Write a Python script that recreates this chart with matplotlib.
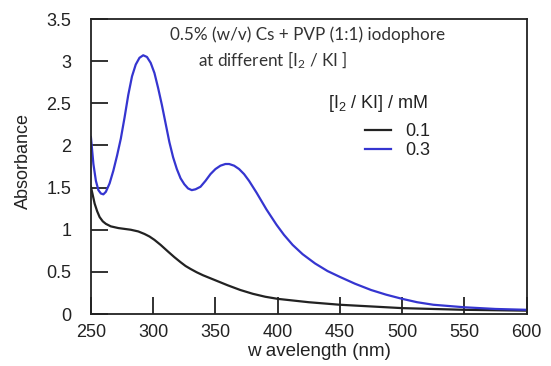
import matplotlib
matplotlib.use('Agg')
import matplotlib.pyplot as plt

plt.rcParams['font.family'] = ['Liberation Sans', 'DejaVu Sans']
plt.rcParams['mathtext.default'] = 'regular'

# 0.1 mM
wl_01 = [250, 251.5, 253, 255, 257, 259.5, 262, 266, 272, 277, 282, 288, 293, 297, 301,
         306, 312, 317, 322, 326, 330, 335, 340, 345, 350, 360, 370, 380, 390, 400,
         425, 450, 475, 500, 550, 600]
abs_01 = [1.51, 1.41, 1.31, 1.22, 1.15, 1.10, 1.07, 1.04, 1.02, 1.01, 1.00, 0.98, 0.95, 0.92, 0.88,
          0.82, 0.74, 0.675, 0.615, 0.57, 0.535, 0.495, 0.46, 0.43, 0.40, 0.34, 0.285, 0.24, 0.205, 0.18,
          0.14, 0.11, 0.09, 0.07, 0.05, 0.04]

# 0.3 mM
wl_03 = [250, 252, 254, 256, 258, 260, 262, 265, 268, 271, 274, 277, 280, 283, 286, 289,
         292, 295, 298, 301, 304, 307, 310, 313, 316, 319, 322, 325, 328, 331, 334, 338,
         342, 346, 350, 354, 358, 361, 365, 369, 373, 377, 383, 391, 399, 405, 412, 420,
         430, 440, 450, 462, 475, 487, 500, 512, 525, 550, 575, 600]
abs_03 = [2.10, 1.78, 1.58, 1.47, 1.43, 1.42, 1.45, 1.55, 1.70, 1.88, 2.08, 2.33, 2.60, 2.82, 2.96, 3.04,
          3.07, 3.05, 2.98, 2.86, 2.68, 2.48, 2.26, 2.04, 1.86, 1.72, 1.61, 1.54, 1.49, 1.47, 1.48, 1.51,
          1.58, 1.66, 1.72, 1.76, 1.78, 1.78, 1.76, 1.72, 1.66, 1.58, 1.44, 1.24, 1.06, 0.94, 0.82, 0.71,
          0.60, 0.51, 0.44, 0.36, 0.285, 0.23, 0.18, 0.14, 0.11, 0.08, 0.06, 0.05]

labels = ['0.1', '0.3']
colors = ['#222222', '#3535d0']

fig = plt.figure(figsize=(5.51, 3.66), dpi=100)
ax = fig.add_axes([0.165, 0.142, 0.791, 0.806])

ax.plot(wl_01, abs_01, color=colors[0], lw=1.6, label=labels[0])
ax.plot(wl_03, abs_03, color=colors[1], lw=1.6, label=labels[1])

ax.set_xlim(250, 600)
ax.set_ylim(0, 3.5)
ax.set_xticks([250, 300, 350, 400, 450, 500, 550, 600])
ax.set_yticks([0, 0.5, 1, 1.5, 2, 2.5, 3, 3.5])
ax.set_yticklabels(['0', '0.5', '1', '1.5', '2', '2.5', '3', '3.5'])
ax.tick_params(direction='in', length=12, width=1.3, labelsize=13, colors='#222222')
ax.tick_params(axis='x', pad=7)
ax.tick_params(axis='y', pad=14)
for s in ax.spines.values():
    s.set_linewidth(1.3)
    s.set_color('#222222')

ax.set_xlabel('w avelength (nm)', fontsize=13.5, color='#222222')
ax.set_ylabel('Absorbance', fontsize=13, color='#222222')
ax.xaxis.set_label_coords(0.523, -0.097)
ax.yaxis.set_label_coords(-0.135, 0.52)

ax.text(0.181, 0.946, '0.5% (w/v) Cs + PVP (1:1) iodophore', transform=ax.transAxes,
        fontsize=12.3, family=['Lato', 'DejaVu Sans'], color='#333333', va='center', ha='left')
ax.text(0.245, 0.861, 'at different [I$_2$ / KI ]', transform=ax.transAxes,
        fontsize=12.3, family=['Lato', 'DejaVu Sans'], color='#333333', va='center', ha='left')

ax.text(0.544, 0.715, '[I$_2$ / KI] / mM', transform=ax.transAxes,
        fontsize=13, color='#222222', va='center', ha='left')
leg = ax.legend(loc='upper left', bbox_to_anchor=(0.628, 0.647), borderaxespad=0,
                frameon=False, fontsize=13, handlelength=1.45,
                handletextpad=0.78, labelspacing=0.12, borderpad=0)
for t in leg.get_texts():
    t.set_color('#222222')

fig.savefig('out.png', dpi=100)
